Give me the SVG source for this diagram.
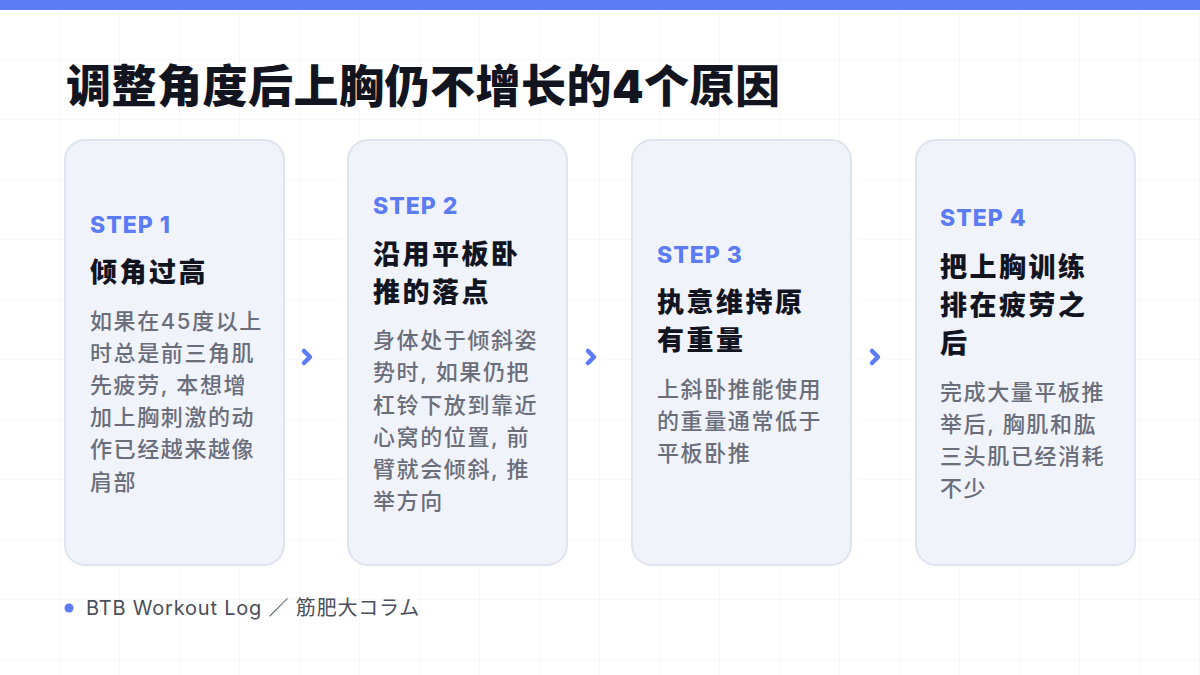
<svg xmlns="http://www.w3.org/2000/svg" width="1200" height="675" viewBox="0 0 1200 675">
<defs>
<pattern id="grid" width="60" height="60" patternUnits="userSpaceOnUse"><path d="M60 0V60M0 60H60" fill="none" stroke="#f0f1f5" stroke-width="1"/></pattern>
<style>
text{font-family:"Inter","Noto Sans CJK SC",sans-serif}
.card{fill:#f1f3fb;stroke:#dfe3ee;stroke-width:2}
.step{font-size:23px;font-weight:800;fill:#5b7cf5;letter-spacing:1px}
.ttl{font-size:27px;font-weight:800;fill:#12151f;letter-spacing:2.5px}
.body{font-size:22px;font-weight:500;fill:#6a6e7a;letter-spacing:1.6px}
.chev{fill:none;stroke:#5b7cf5;stroke-width:4.5;stroke-linejoin:round;stroke-linecap:round}
</style>
</defs>
<rect width="1200" height="675" fill="#fff"/>
<rect width="1200" height="675" fill="url(#grid)"/>
<rect width="1200" height="10" fill="#5b7cf5"/>
<text x="66" y="103" font-size="45" font-weight="900" fill="#12151f" letter-spacing="0.5">调整角度后上胸仍不增长的4个原因</text>
<g id="step1">
<rect class="card" x="65" y="140" width="219" height="425" rx="20"/>
<text class="step" x="90" y="233">STEP 1</text>
<text class="ttl" x="90" y="282">倾角过高</text>
<text class="body"><tspan x="90" y="329">如果在45度以上</tspan><tspan x="90" y="361">时总是前三角肌</tspan><tspan x="90" y="393">先疲劳, 本想增</tspan><tspan x="90" y="425">加上胸刺激的动</tspan><tspan x="90" y="457">作已经越来越像</tspan><tspan x="90" y="490">肩部</tspan></text>
</g>
<g id="step2">
<rect class="card" x="348" y="140" width="219" height="425" rx="20"/>
<text class="step" x="373" y="214">STEP 2</text>
<text class="ttl"><tspan x="373" y="264">沿用平板卧</tspan><tspan x="373" y="302">推的落点</tspan></text>
<text class="body"><tspan x="373" y="348">身体处于倾斜姿</tspan><tspan x="373" y="380">势时, 如果仍把</tspan><tspan x="373" y="413">杠铃下放到靠近</tspan><tspan x="373" y="445">心窝的位置, 前</tspan><tspan x="373" y="477">臂就会倾斜, 推</tspan><tspan x="373" y="509">举方向</tspan></text>
</g>
<g id="step3">
<rect class="card" x="632" y="140" width="219" height="425" rx="20"/>
<text class="step" x="657" y="263">STEP 3</text>
<text class="ttl"><tspan x="657" y="312">执意维持原</tspan><tspan x="657" y="350">有重量</tspan></text>
<text class="body"><tspan x="657" y="397">上斜卧推能使用</tspan><tspan x="657" y="429">的重量通常低于</tspan><tspan x="657" y="461">平板卧推</tspan></text>
</g>
<g id="step4">
<rect class="card" x="916" y="140" width="219" height="425" rx="20"/>
<text class="step" x="940" y="226">STEP 4</text>
<text class="ttl"><tspan x="940" y="277">把上胸训练</tspan><tspan x="940" y="315">排在疲劳之</tspan><tspan x="940" y="353">后</tspan></text>
<text class="body"><tspan x="940" y="400">完成大量平板推</tspan><tspan x="940" y="432">举后, 胸肌和肱</tspan><tspan x="940" y="464">三头肌已经消耗</tspan><tspan x="940" y="496">不少</tspan></text>
</g>
<g id="connectors">
<path class="chev" d="M304 351L310 357L304 363"/>
<path class="chev" d="M588 351L594 357L588 363"/>
<path class="chev" d="M872 351L878 357L872 363"/>
</g>
<circle cx="69" cy="608" r="4.5" fill="#5b7cf5"/>
<text x="86" y="615" font-size="20" fill="#4a4e5a" letter-spacing="0.8">BTB Workout Log ／ 筋肥大コラム</text>
</svg>
